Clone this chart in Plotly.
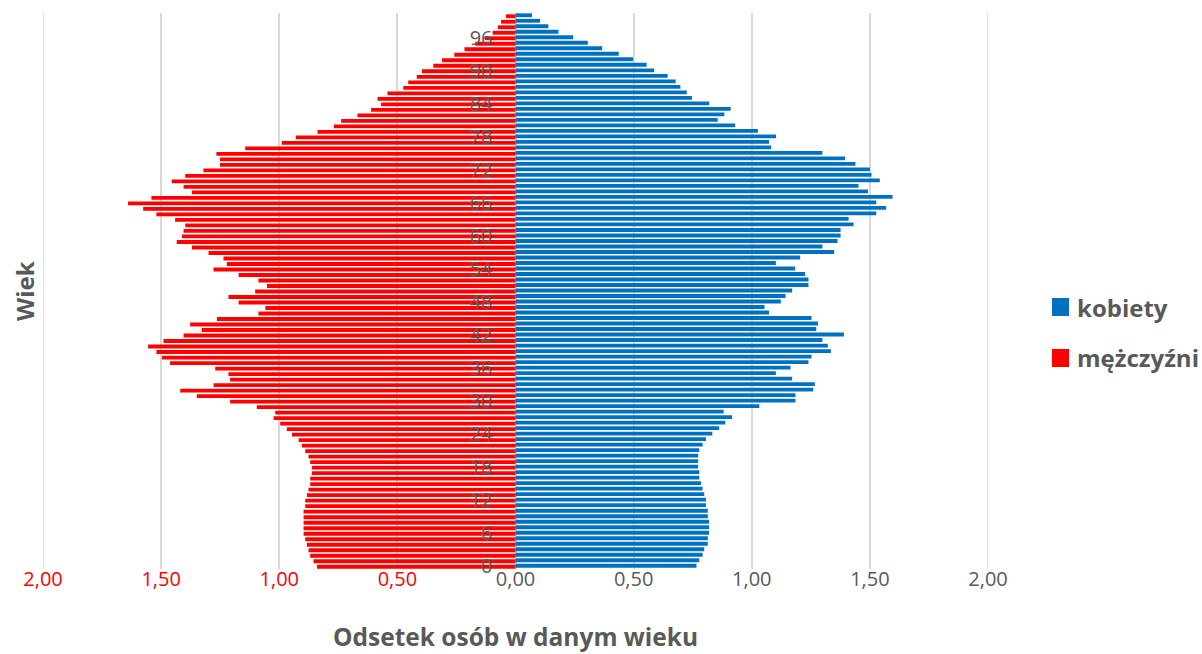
import plotly.graph_objects as go

ages = list(range(0, 101))

men = [0.840, 0.855, 0.869, 0.876, 0.883, 0.890, 0.897, 0.897, 0.897, 0.897,
       0.897, 0.890, 0.890, 0.883, 0.876, 0.869, 0.869, 0.862, 0.862, 0.869,
       0.876, 0.890, 0.904, 0.918, 0.946, 0.968, 0.996, 1.024, 1.017, 1.095,
       1.208, 1.349, 1.419, 1.278, 1.208, 1.215, 1.271, 1.462, 1.497, 1.520,
       1.555, 1.490, 1.405, 1.328, 1.377, 1.264, 1.088, 1.059, 1.172, 1.215,
       1.102, 1.052, 1.088, 1.172, 1.278, 1.222, 1.236, 1.299, 1.370, 1.434,
       1.412, 1.405, 1.398, 1.441, 1.520, 1.576, 1.640, 1.541, 1.370, 1.405,
       1.455, 1.398, 1.321, 1.251, 1.251, 1.266, 1.144, 0.989, 0.930, 0.838,
       0.769, 0.738, 0.669, 0.611, 0.569, 0.584, 0.542, 0.475, 0.454, 0.418,
       0.396, 0.348, 0.311, 0.259, 0.216, 0.170, 0.130, 0.097, 0.075, 0.061,
       0.040]

women = [0.766, 0.778, 0.792, 0.799, 0.814, 0.814, 0.819, 0.819, 0.819, 0.814,
         0.814, 0.806, 0.806, 0.799, 0.792, 0.785, 0.778, 0.778, 0.773, 0.773,
         0.773, 0.778, 0.792, 0.806, 0.833, 0.862, 0.888, 0.917, 0.881, 1.032,
         1.185, 1.185, 1.260, 1.267, 1.171, 1.102, 1.164, 1.240, 1.253, 1.335,
         1.322, 1.299, 1.390, 1.273, 1.280, 1.253, 1.073, 1.054, 1.123, 1.143,
         1.171, 1.240, 1.240, 1.226, 1.184, 1.102, 1.205, 1.349, 1.299, 1.363,
         1.376, 1.376, 1.431, 1.410, 1.527, 1.569, 1.527, 1.596, 1.492, 1.452,
         1.542, 1.507, 1.500, 1.439, 1.395, 1.299, 1.082, 1.073, 1.103, 1.026,
         0.930, 0.856, 0.884, 0.911, 0.820, 0.747, 0.725, 0.698, 0.678, 0.644,
         0.587, 0.555, 0.498, 0.437, 0.367, 0.306, 0.244, 0.182, 0.139, 0.104,
         0.070]

x_tickvals = [-2.0, -1.5, -1.0, -0.5, 0.0, 0.5, 1.0, 1.5, 2.0]
x_ticklabels = ["2,00", "1,50", "1,00", "0,50", "0,00", "0,50", "1,00", "1,50", "2,00"]
y_tickvals = list(range(0, 97, 6))

series_names = ["kobiety", "mężczyźni"]
series_colors = ["#0070C0", "#FF0000"]

FONT = "Open Sans"
GREY = "#595959"
GRID = "#D9D9D9"

x_ticktext = [
    (f'<span style="color:#FF0000">{t}</span>' if v < 0 else t)
    for v, t in zip(x_tickvals, x_ticklabels)
]

fig = go.Figure()
fig.add_trace(go.Bar(
    y=ages, x=women, orientation="h", name=series_names[0],
    marker=dict(color=series_colors[0], line=dict(width=0)),
    width=0.7, offset=-0.35 + 0.09, showlegend=False,
))
fig.add_trace(go.Bar(
    y=ages, x=[-v for v in men], orientation="h", name=series_names[1],
    marker=dict(color=series_colors[1], line=dict(width=0)),
    width=0.7, offset=-0.35 - 0.09, showlegend=False,
))

fig.update_layout(
    width=1202, height=654,
    margin=dict(l=43, r=214, t=13, b=85),
    paper_bgcolor="white", plot_bgcolor="white",
    barmode="overlay",
    font=dict(family=FONT, color=GREY, size=20),
    xaxis=dict(
        range=[-2, 2], domain=[0, 1],
        tickmode="array", tickvals=x_tickvals, ticktext=x_ticktext,
        showgrid=True, gridcolor=GRID, gridwidth=1.5,
        zeroline=False, showline=False, ticks="",
        ticklabelstandoff=-4,
        tickfont=dict(family=FONT, size=20, color=GREY),
    ),
    yaxis=dict(
        range=[-0.5, 100.5],
        tickmode="array", tickvals=y_tickvals,
        ticktext=[str(v) for v in y_tickvals],
        anchor="free", position=0.5,
        showgrid=False, zeroline=False, showline=False, ticks="",
        ticklabelstandoff=23,
        tickfont=dict(family=FONT, size=20, color=GREY),
    ),
    showlegend=False,
)

# gridlines at the range edges (plotly omits them)
for xv in (x_tickvals[0], x_tickvals[-1]):
    fig.add_shape(
        type="line", xref="x", yref="paper", x0=xv, x1=xv, y0=0, y1=1,
        line=dict(color=GRID, width=1.5), layer="below",
    )

# axis titles
fig.add_annotation(
    text="<b>Odsetek osób w danym wieku</b>", xref="paper", yref="paper",
    x=0.5, y=(569 - 636) / 556, xanchor="center", yanchor="middle",
    showarrow=False, font=dict(family=FONT, size=24.5, color=GREY),
)
fig.add_annotation(
    text="<b>Wiek</b>", xref="paper", yref="paper",
    x=(24 - 43) / 945, y=(569 - 291) / 556, xanchor="center", yanchor="middle",
    textangle=-90, showarrow=False, font=dict(family=FONT, size=24, color=GREY),
)

# legend (manual)
legend_rows = [(307, series_names[0], series_colors[0]),
               (358, series_names[1], series_colors[1])]
for py, name, color in legend_rows:
    fig.add_shape(
        type="rect", xref="paper", yref="paper",
        x0=(1052 - 43) / 945, x1=(1069 - 43) / 945,
        y0=(569 - (py + 9)) / 556, y1=(569 - (py - 9)) / 556,
        fillcolor=color, line=dict(width=0),
    )
    fig.add_annotation(
        text=f"<b>{name}</b>", xref="paper", yref="paper",
        x=(1075 - 43) / 945, y=(569 - py) / 556,
        xanchor="left", yanchor="middle", showarrow=False,
        font=dict(family=FONT, size=24, color=GREY),
    )

fig.write_html(
    "out.html",
    config={"displayModeBar": False},
    post_script="document.body.style.margin='0';",
)
